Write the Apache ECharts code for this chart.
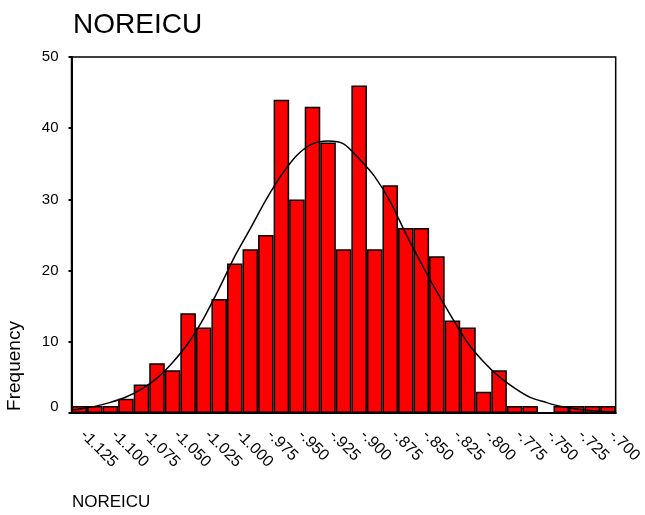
<!DOCTYPE html>
<html>
<head>
<meta charset="utf-8">
<script src="https://cdn.jsdelivr.net/npm/echarts@6/dist/echarts.min.js"></script>
<style>
  html, body { margin: 0; padding: 0; background: #fff; }
  #chart { width: 645px; height: 515px; }
</style>
</head>
<body>
<div id="chart"></div>
<script>
// bin centres (bin width .0125)
const binCenters = [
  -1.125, -1.1125, -1.1, -1.0875, -1.075, -1.0625, -1.05, -1.0375, -1.025, -1.0125,
  -1.0, -0.9875, -0.975, -0.9625, -0.95, -0.9375, -0.925, -0.9125, -0.9, -0.8875,
  -0.875, -0.8625, -0.85, -0.8375, -0.825, -0.8125, -0.8, -0.7875, -0.775, -0.7625,
  -0.75, -0.7375, -0.725, -0.7125, -0.7
]
const frequency = [
  1, 1, 1, 2, 4, 7, 6, 14, 12, 16,
  21, 23, 25, 44, 30, 43, 38, 23, 46, 23,
  32, 26, 26, 22, 13, 12, 3, 6, 1, 1,
  0, 1, 1, 1, 1
]
// normal curve (x = value, y = frequency)
const curveX = [
  -1.13125, -1.125, -1.1125, -1.1, -1.0875, -1.075, -1.0625, -1.05, -1.0375, -1.025, -1.0125,
  -1.0, -0.9875, -0.975, -0.9625, -0.95, -0.9375, -0.925, -0.9125, -0.9, -0.8875,
  -0.875, -0.8625, -0.85, -0.8375, -0.825, -0.8125, -0.8, -0.7875, -0.775, -0.7625,
  -0.75, -0.7375, -0.725, -0.7125, -0.7, -0.69375
]
const curveY = [
  0.42, 0.56, 0.93, 1.49, 2.24, 3.36, 4.9, 7.1, 9.8, 13.3, 17.5,
  22.0, 25.9, 29.9, 33.4, 36.2, 37.8, 38.2, 37.8, 35.7, 33.2,
  29.7, 25.2, 21.0, 17.0, 13.3, 9.8, 7.2, 5.1, 3.5, 2.2,
  1.5, 0.9, 0.56, 0.32, 0.18, 0.14
]
const yTicks = [0, 10, 20, 30, 40, 50]

const font = 'Liberation Sans, Arial, sans-serif'

const fmtTick = (v) => {
  const s = Number(v).toFixed(3)
  return s.replace('-0.', '-.')
}

const chart = echarts.init(document.getElementById('chart'))
const option = {
  backgroundColor: '#fff',
  animation: false,
  title: {
    text: 'NOREICU',
    left: 68,
    top: 6,
    textStyle: { fontFamily: font, fontSize: 28, fontWeight: 'normal', color: '#000' }
  },
  grid: {
    left: 71.5,
    right: 28.5,
    top: 57,
    bottom: 102,
    show: true,
    borderColor: '#000',
    borderWidth: 1.5,
    backgroundColor: '#fff'
  },
  xAxis: [
    {
      type: 'category',
      data: binCenters.map(String),
      boundaryGap: true,
      axisLine: { lineStyle: { color: '#000', width: 2 } },
      axisTick: {
        interval: 1,
        alignWithLabel: true,
        length: 4,
        lineStyle: { color: '#000', width: 2 }
      },
      axisLabel: {
        interval: 1,
        rotate: -45,
        margin: 16,
        padding: [0, 0, 0, 5],
        color: '#000',
        fontFamily: font,
        fontSize: 16,
        formatter: fmtTick
      },
      splitLine: { show: false }
    },
    {
      type: 'value',
      min: -1.13125,
      max: -0.69375,
      show: false
    }
  ],
  yAxis: {
    type: 'value',
    min: yTicks[0],
    max: yTicks[yTicks.length - 1],
    interval: 10,
    axisLine: { show: true, lineStyle: { color: '#000', width: 2 } },
    axisTick: { show: true, length: 3, lineStyle: { color: '#000', width: 2 } },
    axisLabel: {
      margin: 13,
      color: '#000',
      fontFamily: font,
      fontSize: 15,
      formatter: (v) => (v === 0 ? '{z|0}' : String(v)),
      rich: {
        z: { fontFamily: font, fontSize: 15, color: '#000', padding: [0, 0, 12, 0] }
      }
    },
    splitLine: { show: false }
  },
  graphic: [
    {
      type: 'text',
      left: 72,
      top: 494,
      style: { text: 'NOREICU', fontFamily: font, fontSize: 17, fill: '#000' }
    },
    {
      type: 'text',
      x: 15,
      y: 366,
      rotation: Math.PI / 2,
      style: {
        text: 'Frequency',
        fontFamily: font,
        fontSize: 19,
        fill: '#000',
        align: 'center',
        verticalAlign: 'middle'
      }
    }
  ],
  series: [
    {
      type: 'bar',
      data: frequency,
      barCategoryGap: '0%',
      itemStyle: { color: '#ff0000', borderColor: '#000', borderWidth: 1.5 },
      z: 2
    },
    {
      type: 'line',
      xAxisIndex: 1,
      data: curveX.map((x, i) => [x, curveY[i]]),
      smooth: 0.3,
      showSymbol: false,
      lineStyle: { color: '#000', width: 1.5 },
      z: 3
    }
  ]
}
chart.setOption(option)
</script>
</body>
</html>
